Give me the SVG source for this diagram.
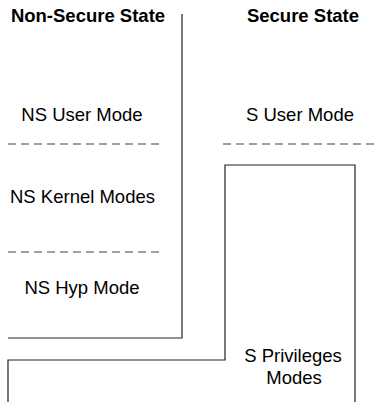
<svg xmlns="http://www.w3.org/2000/svg" width="375" height="402" viewBox="0 0 375 402">
<style>
.t{font-family:"Liberation Sans",Arial,sans-serif;font-size:18.5px;fill:#000;text-anchor:middle}
.h{font-family:"Liberation Sans",Arial,sans-serif;font-size:18.5px;font-weight:bold;fill:#000;text-anchor:middle}
.ln{fill:none;stroke:#222;stroke-width:1.2}
.ds{fill:none;stroke:#444;stroke-width:1.2;stroke-dasharray:8 5}
</style>
<rect width="375" height="402" fill="#fff"/>
<g id="titles">
<text class="h" x="88" y="22">Non-Secure State</text>
<text class="h" x="303" y="22">Secure State</text>
</g>
<g id="connectors">
<polyline class="ln" points="182,14 182,338 8,338"/>
<polyline class="ln" points="8,402 8,360 225,360 225,165 355,165 355,402"/>
<line class="ds" x1="8" y1="144" x2="160" y2="144"/>
<line class="ds" x1="8" y1="252" x2="160" y2="252"/>
<line class="ds" x1="223" y1="144" x2="375" y2="144"/>
</g>
<g id="ns-user"><text class="t" x="82" y="121">NS User Mode</text></g>
<g id="ns-kernel"><text class="t" x="82.5" y="203">NS Kernel Modes</text></g>
<g id="ns-hyp"><text class="t" x="82" y="294">NS Hyp Mode</text></g>
<g id="s-user"><text class="t" x="300" y="121">S User Mode</text></g>
<g id="s-priv"><text class="t" x="293" y="362">S Privileges</text><text class="t" x="294" y="384">Modes</text></g>
</svg>
